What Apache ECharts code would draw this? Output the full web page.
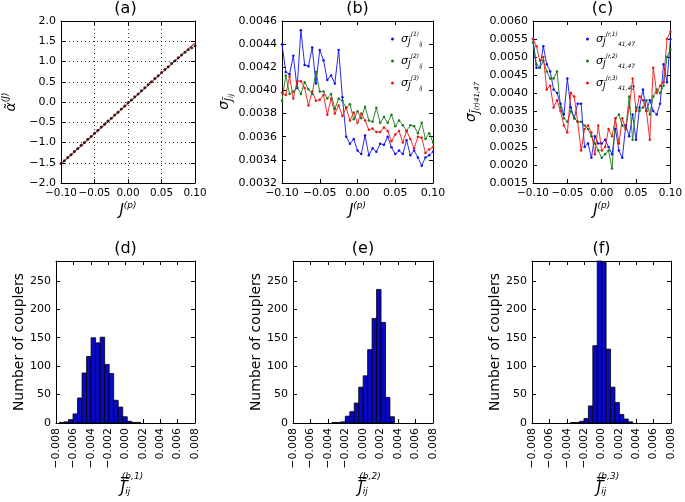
<!DOCTYPE html>
<html>
<head>
<meta charset="utf-8">
<script src="https://cdn.jsdelivr.net/npm/echarts@6/dist/echarts.min.js"></script>
<style>
html,body{margin:0;padding:0;background:#fff;}
#chart{width:685px;height:502px;}
</style>
</head>
<body>
<div id="chart"></div>
<script>
// ---------- data ----------
const jp = [-0.100,-0.095,-0.090,-0.085,-0.080,-0.075,-0.070,-0.065,-0.060,-0.055,-0.050,-0.045,-0.040,-0.035,-0.030,-0.025,-0.020,-0.015,-0.010,-0.005,0.000,0.005,0.010,0.015,0.020,0.025,0.030,0.035,0.040,0.045,0.050,0.055,0.060,0.065,0.070,0.075,0.080,0.085,0.090,0.095,0.100];

const alphaDots = [-1.52,-1.45,-1.37,-1.30,-1.22,-1.15,-1.07,-1.00,-0.92,-0.85,-0.77,-0.70,-0.62,-0.55,-0.47,-0.40,-0.32,-0.25,-0.17,-0.10,-0.02,0.05,0.13,0.20,0.28,0.35,0.43,0.50,0.58,0.65,0.73,0.80,0.87,0.95,1.02,1.09,1.16,1.23,1.29,1.34,1.39];
const alphaFitX = [-0.10, 0.10];
const alphaFitY = [-1.53, 1.46];

const sigB1 = [0.00440,0.00416,0.00414,0.00430,0.00402,0.00452,0.00422,0.00421,0.00437,0.00406,0.00435,0.00426,0.00409,0.00413,0.00406,0.00435,0.00394,0.00360,0.00354,0.00358,0.00348,0.00345,0.00361,0.00344,0.00350,0.00347,0.00354,0.00353,0.00360,0.00351,0.00345,0.00348,0.00345,0.00357,0.00344,0.00348,0.00342,0.00335,0.00342,0.00344,0.00347];
const sigB2 = [0.00391,0.00413,0.00397,0.00399,0.00403,0.00397,0.00407,0.00401,0.00397,0.00416,0.00399,0.00399,0.00393,0.00397,0.00384,0.00393,0.00391,0.00385,0.00388,0.00375,0.00382,0.00376,0.00386,0.00374,0.00373,0.00385,0.00372,0.00377,0.00372,0.00379,0.00369,0.00374,0.00370,0.00365,0.00370,0.00369,0.00363,0.00372,0.00358,0.00363,0.00355];
const sigB3 = [0.00398,0.00396,0.00412,0.00393,0.00408,0.00408,0.00402,0.00387,0.00399,0.00391,0.00392,0.00396,0.00379,0.00393,0.00380,0.00387,0.00378,0.00385,0.00374,0.00381,0.00372,0.00380,0.00374,0.00366,0.00367,0.00364,0.00364,0.00368,0.00365,0.00356,0.00362,0.00365,0.00355,0.00365,0.00358,0.00350,0.00360,0.00359,0.00346,0.00349,0.00351];

const sigC1 = [0.0055,0.0047,0.0047,0.0053,0.0048,0.0046,0.0041,0.0040,0.0037,0.0034,0.0044,0.0036,0.0033,0.0037,0.0037,0.0025,0.0026,0.0022,0.0028,0.0026,0.0026,0.0027,0.0025,0.0023,0.0030,0.0024,0.0022,0.0031,0.0028,0.0034,0.0027,0.0036,0.0041,0.0035,0.0038,0.0035,0.0034,0.0037,0.0048,0.0043,0.0055];
const sigC2 = [0.0054,0.0048,0.0047,0.0049,0.0046,0.0044,0.0044,0.0046,0.0036,0.0033,0.0032,0.0035,0.0033,0.0032,0.0032,0.0031,0.0030,0.0028,0.0026,0.0024,0.0022,0.0023,0.0024,0.0019,0.0033,0.0034,0.0031,0.0030,0.0039,0.0027,0.0036,0.0035,0.0036,0.0038,0.0034,0.0039,0.0041,0.0040,0.0042,0.0050,0.0052];
const sigC3 = [0.0055,0.0053,0.0049,0.0050,0.0041,0.0042,0.0036,0.0038,0.0035,0.0031,0.0029,0.0040,0.0039,0.0032,0.0024,0.0030,0.0031,0.0029,0.0023,0.0031,0.0024,0.0025,0.0030,0.0028,0.0033,0.0026,0.0033,0.0030,0.0036,0.0044,0.0035,0.0039,0.0038,0.0035,0.0027,0.0047,0.0040,0.0042,0.0043,0.0055,0.0057];

const edgesD = [-0.00760,-0.00708,-0.00656,-0.00604,-0.00552,-0.00500,-0.00448,-0.00396,-0.00344,-0.00292,-0.00240,-0.00188,-0.00136,-0.00084,-0.00032,0.00020,0.00072,0.00124,0.00176];
const countsD = [1,2,6,16,44,88,117,150,141,151,103,87,40,28,11,3,1,1];
const edgesE = [-0.00355,-0.00304,-0.00253,-0.00202,-0.00151,-0.00100,-0.00049,0.00002,0.00053,0.00104,0.00155,0.00206,0.00257,0.00308,0.00359];
const countsE = [1,1,2,12,20,35,63,83,129,184,235,177,45,11];
const edgesF = [-0.00355,-0.00304,-0.00253,-0.00202,-0.00151,-0.00100,-0.00049,0.00002,0.00053,0.00104,0.00155,0.00206,0.00257,0.00308,0.00359];
const countsF = [1,1,3,8,30,136,290,283,130,63,36,15,7,2];

const panelTitles = ['(a)','(b)','(c)','(d)','(e)','(f)'];

// ---------- helpers ----------
const FONT = 'DejaVu Sans';
const BLUE = '#1010f0', GREEN = '#1a7a1a', RED = '#ee1515', HIST = '#0808c4';

function signedFmt(d) {
  return function (v) {
    if (Math.abs(v) < 1e-12) v = 0;
    return (v < 0 ? '\u2212' : '') + Math.abs(v).toFixed(d);
  };
}

const richMath = {
  m:   {fontFamily: FONT, fontStyle: 'italic', fontSize: 14, lineHeight: 20, color: '#000'},
  mb:  {fontFamily: FONT, fontStyle: 'italic', fontSize: 15, lineHeight: 20, color: '#000'},
  sup: {fontFamily: FONT, fontStyle: 'italic', fontSize: 9, verticalAlign: 'top', color: '#000'},
  sub: {fontFamily: FONT, fontStyle: 'italic', fontSize: 10, verticalAlign: 'bottom', color: '#000'},
  ss:  {fontFamily: FONT, fontStyle: 'italic', fontSize: 7, verticalAlign: 'bottom', color: '#000'},
  nm:  {fontFamily: FONT, fontSize: 14, color: '#000'},
  hsup:{fontFamily: FONT, fontStyle: 'italic', fontSize: 9, lineHeight: 9, color: '#000', padding: [0, 0, 0, 14]},
  hm:  {fontFamily: FONT, fontStyle: 'italic', fontSize: 15, lineHeight: 15, color: '#000'},
  hsub:{fontFamily: FONT, fontStyle: 'italic', fontSize: 9, verticalAlign: 'bottom', color: '#000'}
};

const grids = [
  {left: 56,  top: 21,  width: 139, height: 162},
  {left: 282, top: 21,  width: 151, height: 162},
  {left: 533, top: 21,  width: 139, height: 162},
  {left: 56,  top: 261, width: 139, height: 162},
  {left: 293, top: 261, width: 140, height: 162},
  {left: 532, top: 261, width: 139, height: 162}
];

const xAxes = [], yAxes = [];
function baseAxis(g, min, max, interval, pos) {
  return {
    gridIndex: g, type: 'value', position: pos, min: min, max: max, interval: interval,
    axisLine: {show: true, onZero: false, lineStyle: {color: '#000', width: 1}},
    axisTick: {show: true, inside: true, length: 4, lineStyle: {color: '#000', width: 1}},
    splitLine: {show: false},
    axisLabel: {show: false}
  };
}
const labelBase = {show: true, color: '#000', fontFamily: FONT, fontSize: 11, margin: 5,
  interval: 0, showMinLabel: true, showMaxLabel: true, hideOverlap: false};
function addAxes(g, xr, yr, xo, yo) {
  const xb = baseAxis(g, xr[0], xr[1], xr[2], 'bottom');
  xb.axisLabel = Object.assign({}, labelBase, xo.label || {});
  xb.name = xo.name; xb.nameLocation = 'middle'; xb.nameGap = xo.gap;
  xb.nameTextStyle = {rich: richMath, color: '#000'};
  if (xo.grid) xb.splitLine = {show: true, lineStyle: {color: '#000', type: [1, 3], width: 0.8}};
  const xt = baseAxis(g, xr[0], xr[1], xr[2], 'top');
  const yl = baseAxis(g, yr[0], yr[1], yr[2], 'left');
  yl.axisLabel = Object.assign({}, labelBase, yo.label || {});
  yl.name = yo.name; yl.nameLocation = 'middle'; yl.nameGap = yo.gap;
  yl.nameTextStyle = {rich: richMath, color: '#000'};
  if (yo.grid) yl.splitLine = {show: true, lineStyle: {color: '#000', type: [1, 3], width: 0.8}};
  const yr2 = baseAxis(g, yr[0], yr[1], yr[2], 'right');
  xAxes.push(xb, xt); yAxes.push(yl, yr2);
}

const jpName = '{mb|J}{sup|(p)}';
addAxes(0, [-0.1, 0.1, 0.05], [-2, 2, 0.5],
  {label: {formatter: signedFmt(2), fontSize: 10.4}, name: jpName, gap: 18, grid: true},
  {label: {formatter: signedFmt(1)}, name: '{m|\u03B1\u0303}{sup|(J)}', gap: 40, grid: true});
addAxes(1, [-0.1, 0.1, 0.05], [0.0032, 0.0046, 0.0002],
  {label: {formatter: signedFmt(2)}, name: jpName, gap: 18},
  {label: {formatter: signedFmt(4)}, name: '{m|\u03C3}{sub|J\u0304}{ss|ij}', gap: 38});
addAxes(2, [-0.1, 0.1, 0.05], [0.0015, 0.0060, 0.0005],
  {label: {formatter: signedFmt(2), fontSize: 10.4}, name: jpName, gap: 18},
  {label: {formatter: signedFmt(4)}, name: '{m|\u03C3}{sub|J\u0304}{ss|(r)}{ss|41,47}', gap: 52});
const histX = {label: {formatter: signedFmt(3), rotate: 90}, gap: 49};
const histY = {label: {showMaxLabel: false}, name: '{nm|Number of couplers}', gap: 30};
addAxes(3, [-0.008, 0.008, 0.002], [0, 285, 50],
  Object.assign({}, histX, {name: '{hsup|(b,1)}\n{hm|J\u033F}{hsub|ij}'}), histY);
addAxes(4, [-0.008, 0.008, 0.002], [0, 285, 50],
  Object.assign({}, histX, {name: '{hsup|(b,2)}\n{hm|J\u033F}{hsub|ij}'}), histY);
addAxes(5, [-0.008, 0.008, 0.002], [0, 285, 50],
  Object.assign({}, histX, {name: '{hsup|(b,3)}\n{hm|J\u033F}{hsub|ij}'}), histY);

function pairs(xs, ys) { return xs.map((x, i) => [x, ys[i]]); }

function lineSeries(name, g, ys, color) {
  return {
    name: name, type: 'line', xAxisIndex: 2 * g, yAxisIndex: 2 * g,
    data: pairs(jp, ys), symbol: 'circle', symbolSize: 2.5, showSymbol: true,
    lineStyle: {color: color, width: 0.9}, itemStyle: {color: color},
    clip: true
  };
}

function renderHist(params, api) {
  const x0 = api.value(0), x1 = api.value(1), c = api.value(2);
  const p0 = api.coord([x0, 0]);
  const p1 = api.coord([x1, c]);
  const cs = params.coordSys;
  const rect = echarts.graphic.clipRectByRect(
    {x: p0[0], y: p1[1], width: p1[0] - p0[0], height: p0[1] - p1[1]},
    {x: cs.x, y: cs.y, width: cs.width, height: cs.height});
  return rect && {type: 'rect', shape: rect, style: {fill: HIST, stroke: '#000', lineWidth: 0.8}};
}
function histSeries(g, edges, counts) {
  return {
    type: 'custom', xAxisIndex: 2 * g, yAxisIndex: 2 * g, renderItem: renderHist,
    encode: {x: [0, 1], y: 2},
    data: counts.map((c, i) => [edges[i], edges[i + 1], c])
  };
}

const legendRich = {
  lm: {fontFamily: FONT, fontStyle: 'italic', fontSize: 11, lineHeight: 16, color: '#000'},
  lj: {fontFamily: FONT, fontStyle: 'italic', fontSize: 9, lineHeight: 16, color: '#000', verticalAlign: 'bottom'},
  ls: {fontFamily: FONT, fontStyle: 'italic', fontSize: 6, verticalAlign: 'top', color: '#000'},
  lb: {fontFamily: FONT, fontStyle: 'italic', fontSize: 6, verticalAlign: 'bottom', color: '#000'}
};
const legendB = {
  'b1': '{lm|\u03C3}{lj|J\u0304}{ls|(1)}{lb|ij}',
  'b2': '{lm|\u03C3}{lj|J\u0304}{ls|(2)}{lb|ij}',
  'b3': '{lm|\u03C3}{lj|J\u0304}{ls|(3)}{lb|ij}'
};
const legendC = {
  'c1': '{lm|\u03C3}{lj|J\u0304}{ls|(r,1)}{lb|41,47}',
  'c2': '{lm|\u03C3}{lj|J\u0304}{ls|(r,2)}{lb|41,47}',
  'c3': '{lm|\u03C3}{lj|J\u0304}{ls|(r,3)}{lb|41,47}'
};

const option = {
  animation: false,
  backgroundColor: '#fff',
  grid: grids,
  xAxis: xAxes,
  yAxis: yAxes,
  legend: [
    {data: ['b1', 'b2', 'b3'], left: 386, top: 26, orient: 'vertical', itemGap: 6,
     icon: 'circle', itemWidth: 3, itemHeight: 3,
     formatter: n => legendB[n], textStyle: {rich: legendRich, padding: [0, 0, 0, 2]}},
    {data: ['c1', 'c2', 'c3'], left: 581, top: 26, orient: 'vertical', itemGap: 6,
     icon: 'circle', itemWidth: 3, itemHeight: 3,
     formatter: n => legendC[n], textStyle: {rich: legendRich, padding: [0, 0, 0, 2]}}
  ],
  graphic: panelTitles.map((t, i) => ({
    type: 'text', x: grids[i].left + grids[i].width / 2, y: grids[i].top - 20,
    style: {text: t, align: 'center', verticalAlign: 'top', fontSize: 16, fontFamily: FONT, fill: '#000'}
  })),
  series: [
    {type: 'line', xAxisIndex: 0, yAxisIndex: 0, data: pairs(alphaFitX, alphaFitY),
     showSymbol: false, lineStyle: {color: '#d94040', width: 1.2}, z: 2},
    {type: 'scatter', xAxisIndex: 0, yAxisIndex: 0, data: pairs(jp, alphaDots),
     symbolSize: 3, itemStyle: {color: '#000'}, z: 3},
    lineSeries('b1', 1, sigB1, BLUE),
    lineSeries('b2', 1, sigB2, GREEN),
    lineSeries('b3', 1, sigB3, RED),
    lineSeries('c1', 2, sigC1, BLUE),
    lineSeries('c2', 2, sigC2, GREEN),
    lineSeries('c3', 2, sigC3, RED),
    histSeries(3, edgesD, countsD),
    histSeries(4, edgesE, countsE),
    histSeries(5, edgesF, countsF)
  ]
};

const chart = echarts.init(document.getElementById('chart'), null, {renderer: 'canvas'});
chart.setOption(option);
</script>
</body>
</html>
